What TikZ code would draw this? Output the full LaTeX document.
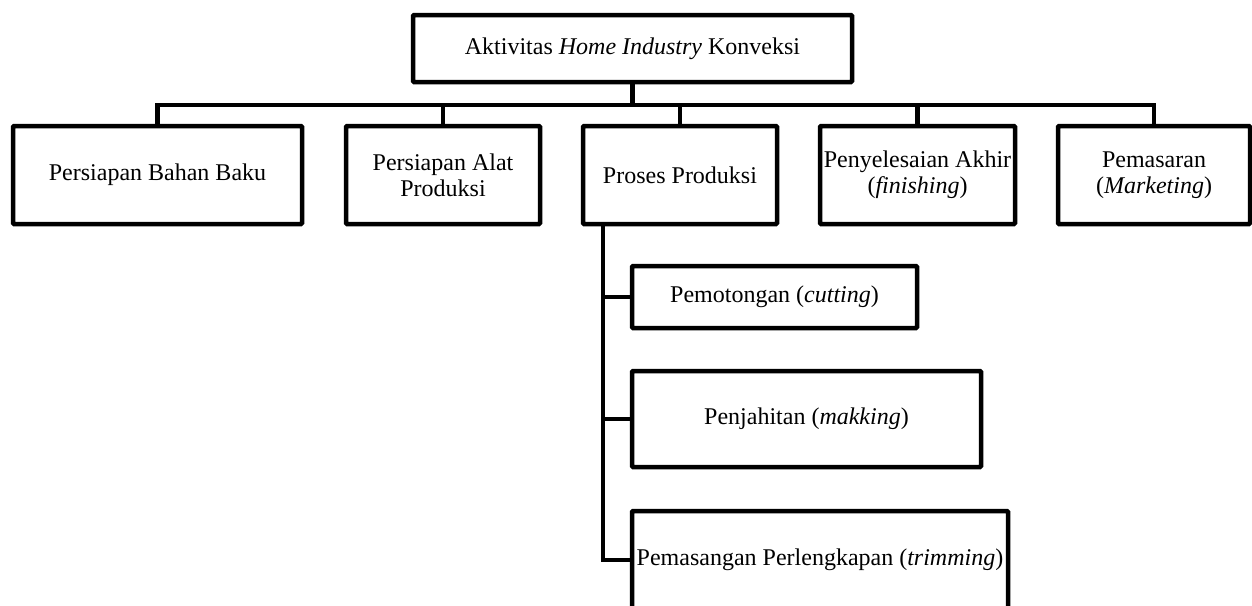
\documentclass[tikz,border=0pt]{standalone}
\usepackage{fontspec}
\setmainfont{Liberation Serif}
\begin{document}
\begin{tikzpicture}[x=1pt,y=-1pt,
  box/.style={draw,line width=4.5pt,rounded corners=1pt,inner sep=0pt,align=center,
    font=\fontsize{24}{26}\selectfont},
  conn/.style={line width=4.5pt,line join=miter}]
\useasboundingbox (0,0) rectangle (1252,605);
\begin{scope}
\clip (0,0) rectangle (1252,605);
\node[box,minimum width=439pt,minimum height=67pt] (top) at (632.5,48.5) {Aktivitas \textit{Home Industry} Konveksi};
\node[box,minimum width=289pt,minimum height=98pt] (b1) at (157.5,175) {Persiapan Bahan Baku};
\node[box,minimum width=194pt,minimum height=98pt] (b2) at (443,175) {Persiapan Alat\\Produksi};
\node[box,minimum width=194pt,minimum height=98pt] (b3) at (680,175) {Proses Produksi};
\node[box,minimum width=195pt,minimum height=98pt] (b4) at (917.5,175) {Penyelesaian Akhir\\(\textit{finishing})};
\node[box,minimum width=192pt,minimum height=98pt] (b5) at (1154,175) {Pemasaran\\(\textit{Marketing})};
\node[box,minimum width=285pt,minimum height=62pt] (c1) at (774.5,297) {Pemotongan (\textit{cutting})};
\node[box,minimum width=349pt,minimum height=96pt] (c2) at (806.5,419) {Penjahitan (\textit{makking})};
\node[box,minimum width=376pt,minimum height=98pt] (c3) at (820,560) {Pemasangan Perlengkapan (\textit{trimming})};
\coordinate (bus) at (0,105);
\coordinate (sx) at (603,0);
\draw[conn] (top.south) -- (top.south |- bus);
\draw[conn] (b1.north) -- (b1.north |- bus) -- (b5.north |- bus) -- (b5.north);
\draw[conn] (b2.north) -- (b2.north |- bus);
\draw[conn] (b3.north) -- (b3.north |- bus);
\draw[conn] (b4.north) -- (b4.north |- bus);
\draw[conn] (b3.south -| sx) -- (sx |- c3.west) -- (c3.west);
\draw[conn] (sx |- c1.west) -- (c1.west);
\draw[conn] (sx |- c2.west) -- (c2.west);
\end{scope}
\end{tikzpicture}
\end{document}
